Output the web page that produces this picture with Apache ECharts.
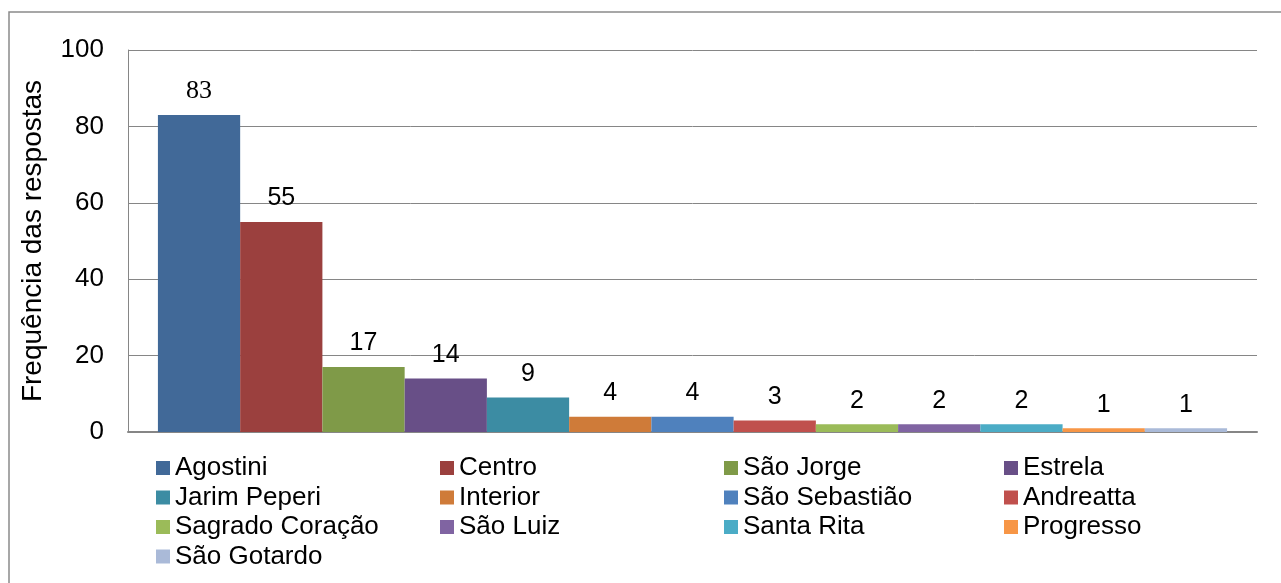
<!DOCTYPE html>
<html>
<head>
<meta charset="utf-8">
<script src="https://cdn.jsdelivr.net/npm/echarts@6/dist/echarts.min.js"></script>
<style>
  html, body { margin: 0; padding: 0; background: #fff; }
  #chart { width: 1281px; height: 583px; }
</style>
</head>
<body>
<div id="chart"></div>
<script>
// bairros e frequência das respostas
const bairros = ['Agostini', 'Centro', 'São Jorge', 'Estrela', 'Jarim Peperi', 'Interior',
  'São Sebastião', 'Andreatta', 'Sagrado Coração', 'São Luiz', 'Santa Rita', 'Progresso', 'São Gotardo']
const frequencias = [83, 55, 17, 14, 9, 4, 4, 3, 2, 2, 2, 1, 1]
const cores = ['#416998', '#9b403e', '#7f9a48', '#684f87', '#3c8ca3', '#cf7b39',
  '#4f81bd', '#c0504d', '#9bbb59', '#8064a2', '#4bacc6', '#f79646', '#aabad8']
const yTicks = [0, 20, 40, 60, 80, 100]

// colunas da legenda (4 colunas)
const legendCols = [
  ['Agostini', 'Jarim Peperi', 'Sagrado Coração', 'São Gotardo'],
  ['Centro', 'Interior', 'São Luiz'],
  ['São Jorge', 'São Sebastião', 'Santa Rita'],
  ['Estrela', 'Andreatta', 'Progresso']
]
const legendLeft = [156, 440, 724, 1004]

const font = 'Liberation Sans, Arial, sans-serif'
const chart = echarts.init(document.getElementById('chart'))

const series = bairros.map((nome, i) => ({
  name: nome,
  type: 'bar',
  data: [frequencias[i]],
  barGap: '0%',
  barCategoryGap: '5.3%',
  itemStyle: { color: cores[i] },
  label: {
    show: true,
    position: 'top',
    distance: 11,
    color: '#000',
    fontSize: i === 0 ? 26 : 25,
    fontFamily: i === 0 ? 'Liberation Serif, Times New Roman, serif' : font
  }
}))

chart.setOption({
  animation: false,
  textStyle: { fontFamily: font },
  graphic: [{
    type: 'rect',
    shape: { x: 9, y: 12, width: 1300, height: 620 },
    style: { fill: 'none', stroke: '#8a8a8a', lineWidth: 1.5 },
    silent: true
  }],
  grid: {
    left: 128,
    right: 24,
    top: 50,
    bottom: 151
  },
  legend: legendCols.map((col, i) => ({
    orient: 'vertical',
    left: legendLeft[i],
    top: 455,
    data: col,
    icon: 'rect',
    itemWidth: 14,
    itemHeight: 14,
    itemGap: 3.5,
    padding: 0,
    textStyle: { fontSize: 26, lineHeight: 26, color: '#000', fontFamily: font }
  })),
  xAxis: {
    type: 'category',
    data: [''],
    axisLine: { lineStyle: { color: '#868686', width: 2 } },
    axisTick: { show: false },
    axisLabel: { show: false }
  },
  yAxis: {
    type: 'value',
    min: yTicks[0],
    max: yTicks[yTicks.length - 1],
    interval: 20,
    name: 'Frequência das respostas',
    nameLocation: 'middle',
    nameGap: 81,
    nameTextStyle: { fontSize: 28, color: '#000', fontFamily: font },
    axisLine: { show: true, lineStyle: { color: '#868686' } },
    axisTick: { show: false },
    axisLabel: { fontSize: 26, color: '#000', margin: 24, fontFamily: font },
    splitLine: { lineStyle: { color: '#868686' } }
  },
  series: series
})
</script>
</body>
</html>
